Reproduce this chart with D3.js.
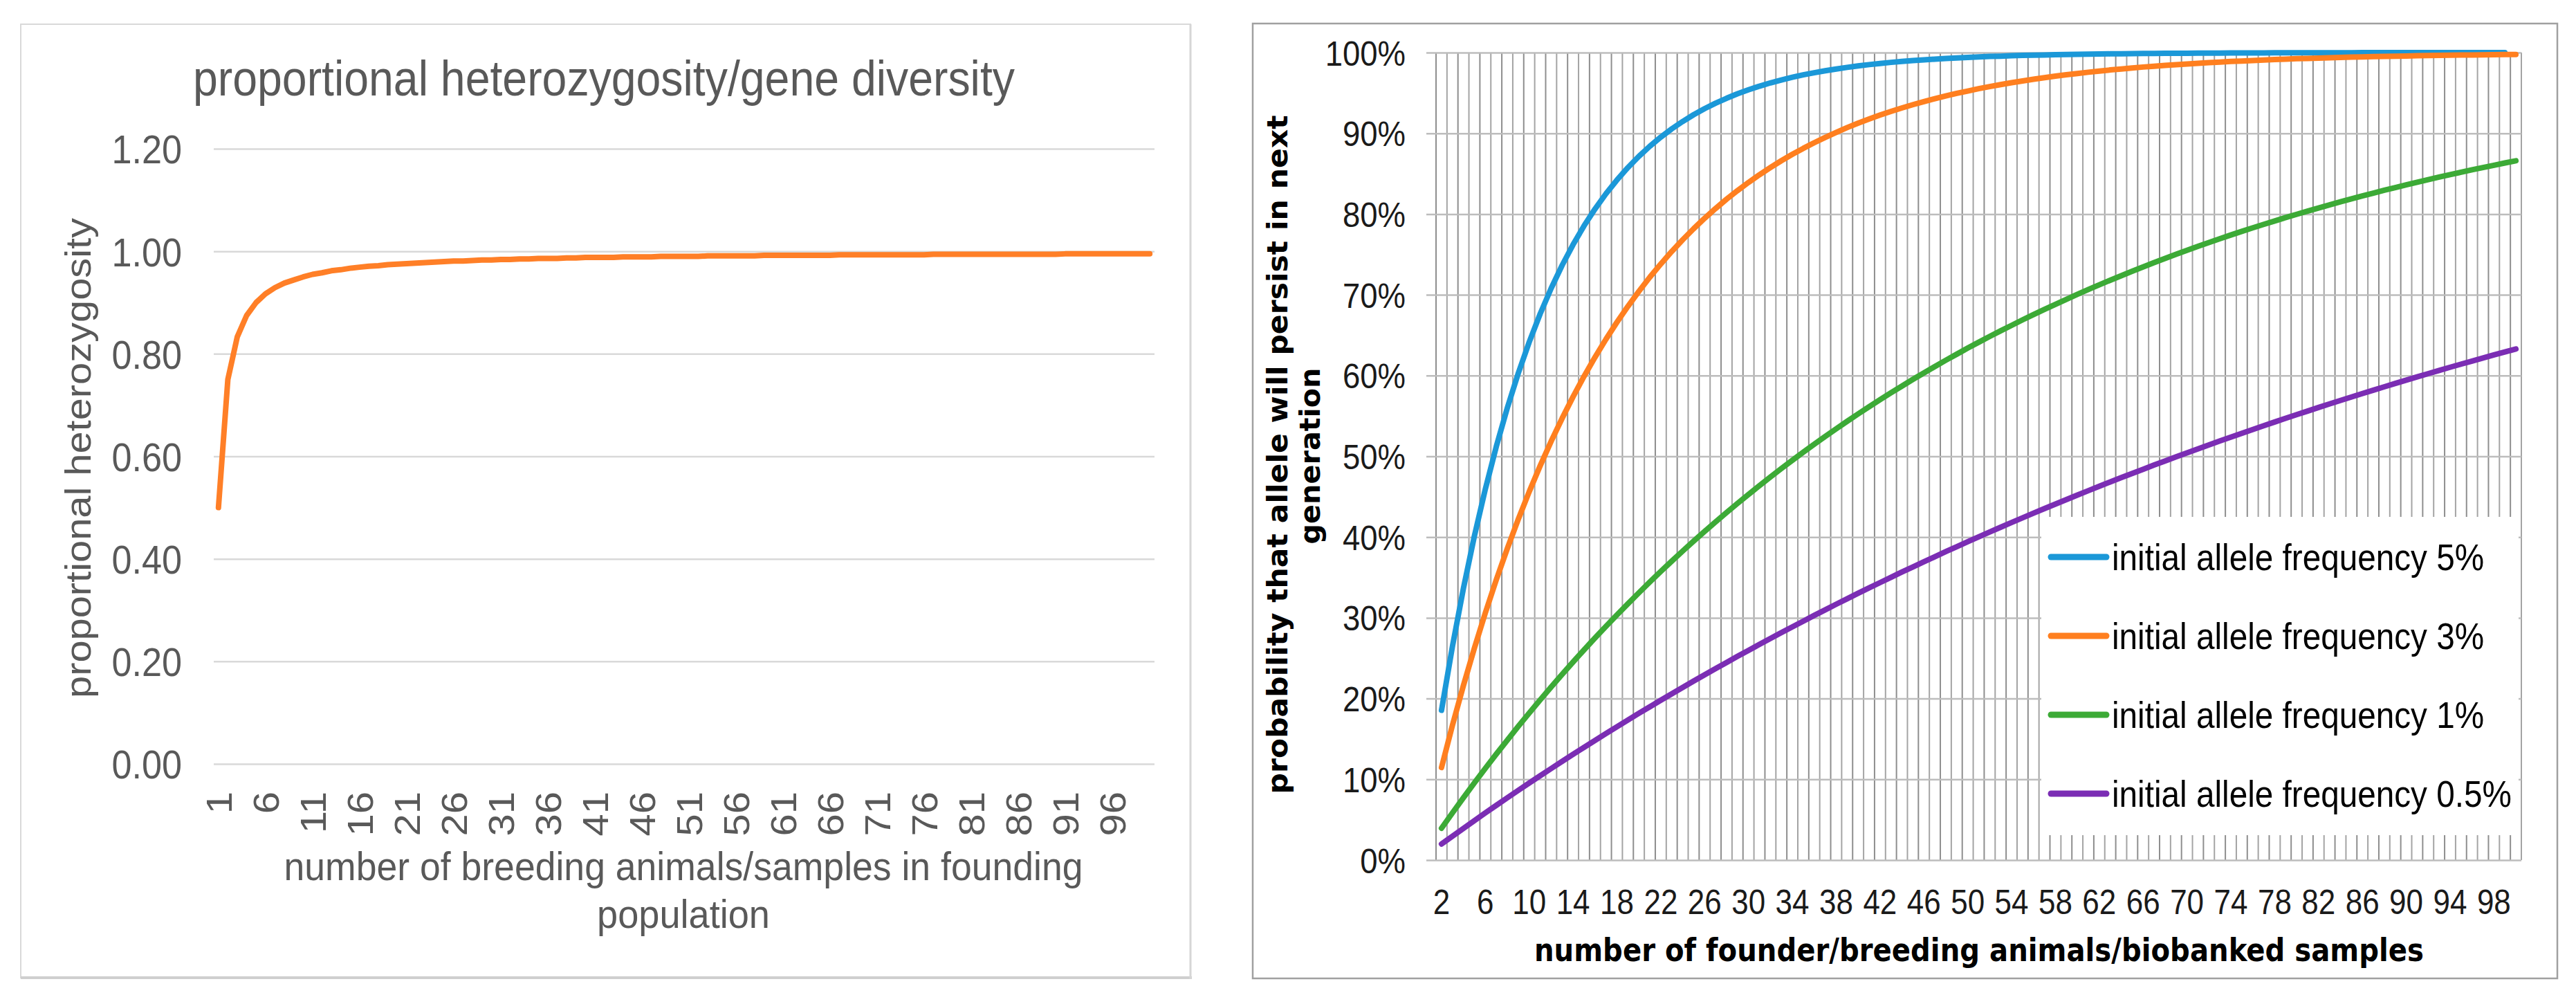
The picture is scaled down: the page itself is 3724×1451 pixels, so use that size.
<!DOCTYPE html>
<html><head><meta charset="utf-8">
<script src="https://cdn.jsdelivr.net/npm/d3@7"></script>
<style>html,body{margin:0;padding:0;background:#fff;} svg{display:block;}</style>
</head><body>
<svg id="chart" width="3724" height="1451"></svg>
<script>
// ---------------- DATA ----------------
// Left chart: proportional heterozygosity vs number of founders (1..100)
const leftCategories = d3.range(1, 101);
const heterozygosity = [
0.500,0.750,0.833,0.875,0.900,0.917,0.929,0.938,0.944,0.950,
0.955,0.958,0.962,0.964,0.967,0.969,0.971,0.972,0.974,0.975,
0.976,0.977,0.978,0.979,0.980,0.981,0.981,0.982,0.983,0.983,
0.984,0.984,0.985,0.985,0.986,0.986,0.986,0.987,0.987,0.988,
0.988,0.988,0.988,0.989,0.989,0.989,0.989,0.990,0.990,0.990,
0.990,0.990,0.991,0.991,0.991,0.991,0.991,0.991,0.992,0.992,
0.992,0.992,0.992,0.992,0.992,0.992,0.993,0.993,0.993,0.993,
0.993,0.993,0.993,0.993,0.993,0.993,0.994,0.994,0.994,0.994,
0.994,0.994,0.994,0.994,0.994,0.994,0.994,0.994,0.994,0.994,
0.995,0.995,0.995,0.995,0.995,0.995,0.995,0.995,0.995,0.995];
const leftYTicks = [0, 0.2, 0.4, 0.6, 0.8, 1.0, 1.2];
const leftXTicks = [1,6,11,16,21,26,31,36,41,46,51,56,61,66,71,76,81,86,91,96];
const leftTitle = "proportional heterozygosity/gene diversity";
const leftYTitle = "proportional heterozygosity";
const leftXTitle = ["number of breeding animals/samples in founding", "population"];

// Right chart: probability (%) that allele persists, founders 2..100
const rightCategories = d3.range(2, 101);
const freq5 = [18.55,26.49,33.66,40.13,45.96,51.23,55.99,60.28,64.15,
67.65,70.80,73.65,76.22,78.54,80.63,82.52,84.22,85.76,87.15,
88.40,89.53,90.55,91.47,92.31,93.06,93.73,94.34,94.90,95.39,
95.84,96.25,96.61,96.94,97.24,97.51,97.75,97.97,98.17,98.35,
98.51,98.65,98.79,98.90,99.01,99.11,99.19,99.27,99.34,99.41,
99.47,99.52,99.56,99.61,99.65,99.68,99.71,99.74,99.76,99.79,
99.81,99.83,99.84,99.86,99.87,99.89,99.90,99.91,99.92,99.92,
99.93,99.94,99.94,99.95,99.95,99.96,99.96,99.97,99.97,99.97,
99.98,99.98,99.98,99.98,99.98,99.99,99.99,99.99,99.99,99.99,
99.99,99.99,99.99,99.99,99.99,99.99,99.99,99.99,100.00];
const freq3 = [11.47,16.70,21.63,26.26,30.62,34.72,38.57,42.20,45.62,
48.83,51.86,54.70,57.38,59.90,62.27,64.50,66.60,68.57,70.43,
72.18,73.82,75.37,76.82,78.19,79.48,80.69,81.84,82.91,83.92,
84.87,85.76,86.61,87.40,88.14,88.84,89.50,90.12,90.71,91.26,
91.77,92.26,92.72,93.15,93.55,93.93,94.29,94.63,94.95,95.24,
95.53,95.79,96.04,96.27,96.49,96.70,96.90,97.08,97.25,97.41,
97.57,97.71,97.85,97.97,98.09,98.21,98.31,98.41,98.51,98.59,
98.68,98.76,98.83,98.90,98.96,99.02,99.08,99.14,99.19,99.24,
99.28,99.32,99.36,99.40,99.44,99.47,99.50,99.53,99.56,99.58,
99.61,99.63,99.65,99.67,99.69,99.71,99.73,99.74,99.76,99.77];
const freq1 = [3.94,5.85,7.73,9.56,11.36,13.13,14.85,16.55,18.21,
19.84,21.43,23.00,24.53,26.03,27.50,28.94,30.36,31.74,33.10,
34.43,35.74,37.02,38.27,39.50,40.70,41.88,43.04,44.17,45.28,
46.37,47.44,48.49,49.51,50.52,51.50,52.47,53.41,54.34,55.25,
56.14,57.01,57.87,58.70,59.53,60.33,61.12,61.90,62.65,63.40,
64.13,64.84,65.54,66.22,66.90,67.56,68.20,68.83,69.45,70.06,
70.66,71.24,71.81,72.37,72.92,73.46,73.99,74.51,75.02,75.51,
76.00,76.48,76.95,77.41,77.86,78.30,78.73,79.15,79.57,79.97,
80.37,80.76,81.14,81.52,81.89,82.25,82.60,82.95,83.29,83.62,
83.95,84.26,84.58,84.88,85.19,85.48,85.77,86.05,86.33,86.60];
const freq05 = [1.99,2.96,3.93,4.89,5.84,6.78,7.71,8.63,9.54,
10.44,11.33,12.22,13.09,13.96,14.82,15.67,16.51,17.34,18.17,
18.98,19.79,20.59,21.38,22.17,22.95,23.71,24.47,25.23,25.97,
26.71,27.44,28.17,28.88,29.59,30.30,30.99,31.68,32.36,33.04,
33.70,34.36,35.02,35.67,36.31,36.94,37.57,38.20,38.81,39.42,
40.03,40.63,41.22,41.80,42.38,42.96,43.53,44.09,44.65,45.20,
45.75,46.29,46.83,47.36,47.88,48.40,48.92,49.42,49.93,50.43,
50.92,51.41,51.90,52.38,52.85,53.32,53.79,54.25,54.71,55.16,
55.60,56.05,56.49,56.92,57.35,57.78,58.20,58.61,59.03,59.43,
59.84,60.24,60.64,61.03,61.42,61.80,62.18,62.56,62.93,63.30];
const seriesNames = ["initial allele frequency 5%", "initial allele frequency 3%",
                     "initial allele frequency 1%", "initial allele frequency 0.5%"];
const seriesValues = [freq5, freq3, freq1, freq05];
const rightYTicks = [0,10,20,30,40,50,60,70,80,90,100];
const rightXTicks = [2,6,10,14,18,22,26,30,34,38,42,46,50,54,58,62,66,70,74,78,82,86,90,94,98];
const rightYTitle = ["probability that allele will persist in next", "generation"];
const rightXTitle = "number of founder/breeding animals/biobanked samples";

// ---------------- STYLE ----------------
const ARIAL = "'Liberation Sans', Arial, Helvetica, sans-serif";
const VERDANA = "'DejaVu Sans', Verdana, sans-serif";
const seriesColors = ["#1B98D8", "#FF7F1F", "#3CAA36", "#7B2DB4"];

const svg = d3.select("#chart");
svg.append("rect").attr("width", 3724).attr("height", 1451).attr("fill", "#fff");

// ================= LEFT CHART =================
const L = svg.append("g");
L.append("rect").attr("x", 30).attr("y", 35).attr("width", 1691).attr("height", 1378)
  .attr("fill", "#fff").attr("stroke", "#d9d9d9").attr("stroke-width", 2);
L.append("line").attr("x1", 30).attr("x2", 1723).attr("y1", 1413).attr("y2", 1413)
  .attr("stroke", "#cfcfcf").attr("stroke-width", 4);
L.append("line").attr("x1", 1721).attr("x2", 1721).attr("y1", 35).attr("y2", 1415)
  .attr("stroke", "#d6d6d6").attr("stroke-width", 3);

const xL = d3.scaleBand().domain(leftCategories).range([309, 1669]);
const yL = d3.scaleLinear().domain([0, 1.2]).range([1104, 215]);

const yAxL = L.append("g").attr("transform", "translate(309,0)")
  .call(d3.axisLeft(yL).tickValues(leftYTicks).tickFormat(d3.format(".2f"))
        .tickSize(-1360).tickPadding(0));
yAxL.select(".domain").remove();
yAxL.attr("font-size", null).attr("font-family", null);
yAxL.selectAll(".tick line").attr("stroke", "#d9d9d9").attr("stroke-width", 2.5);
yAxL.selectAll(".tick text").attr("x", null).attr("dy", "0.36em")
  .attr("transform", "translate(-46,0) scale(0.9,1)")
  .attr("font-size", 58).attr("font-family", ARIAL).attr("fill", "#595959");

const xAxL = L.append("g").attr("transform", "translate(0,1104)")
  .call(d3.axisBottom(xL).tickValues(leftXTicks).tickSize(0));
xAxL.select(".domain").remove();
xAxL.attr("font-size", null).attr("font-family", null);
xAxL.selectAll(".tick text").attr("x", 0).attr("y", 0).attr("dy", "0.36em")
  .attr("text-anchor", "end")
  .attr("transform", "translate(0,40) rotate(-90) scale(1,0.9)")
  .attr("font-size", 58).attr("font-family", ARIAL).attr("fill", "#595959");

const lineL = d3.line()
  .x((d, i) => xL(leftCategories[i]) + xL.bandwidth() / 2)
  .y(d => yL(d));
L.append("path").datum(heterozygosity).attr("d", lineL)
  .attr("fill", "none").attr("stroke", "#FF7F27").attr("stroke-width", 8)
  .attr("stroke-linejoin", "round").attr("stroke-linecap", "round");

L.append("text").attr("x", 873).attr("y", 138).attr("text-anchor", "middle")
  .attr("font-size", 72).attr("font-family", ARIAL).attr("fill", "#595959")
  .attr("textLength", 1188).attr("lengthAdjust", "spacingAndGlyphs").text(leftTitle);
L.append("text").attr("transform", "translate(131,662) rotate(-90) scale(1,0.9)")
  .attr("text-anchor", "middle").attr("font-size", 58).attr("font-family", ARIAL)
  .attr("fill", "#595959").attr("textLength", 694).attr("lengthAdjust", "spacingAndGlyphs")
  .text(leftYTitle);
const xtL = [[1272, 1155], [1341, 250]];
L.selectAll("text.xt").data(leftXTitle).join("text").attr("class", "xt")
  .attr("x", 988).attr("y", (d, i) => xtL[i][0]).attr("text-anchor", "middle")
  .attr("font-size", 58).attr("font-family", ARIAL).attr("fill", "#595959")
  .attr("textLength", (d, i) => xtL[i][1]).attr("lengthAdjust", "spacingAndGlyphs")
  .text(d => d);

// ================= RIGHT CHART =================
const R = svg.append("g");
R.append("rect").attr("x", 1811).attr("y", 34).attr("width", 1886).attr("height", 1380)
  .attr("fill", "#fff").attr("stroke", "#a0a0a0").attr("stroke-width", 2.5);

const xR = d3.scaleBand().domain(rightCategories).range([2076, 3645]);
const yR = d3.scaleLinear().domain([0, 100]).range([1243, 76]);

// vertical gridlines at category boundaries
const bounds = rightCategories.map(d => xR(d)).concat([xR.range()[1]]);
R.append("g").selectAll("line").data(bounds).join("line")
  .attr("x1", d => d).attr("x2", d => d).attr("y1", yR(100)).attr("y2", yR(0))
  .attr("stroke", (d, i) => i % 2 ? "#a4a4a4" : "#8e8e8e").attr("stroke-width", 2);

const yAxR = R.append("g").attr("transform", "translate(2062,0)")
  .call(d3.axisLeft(yR).tickValues(rightYTicks).tickFormat(d => d + "%")
        .tickSize(-(3645 - 2062)).tickPadding(0));
yAxR.select(".domain").remove();
yAxR.attr("font-size", null).attr("font-family", null);
yAxR.selectAll(".tick line").attr("stroke", "#bdbdbd").attr("stroke-width", 2.5);
yAxR.selectAll(".tick text").attr("x", null).attr("dy", "0.36em")
  .attr("transform", "translate(-30,0) scale(0.91,1)")
  .attr("font-size", 50).attr("font-family", ARIAL).attr("fill", "#1a1a1a");

const xAxR = R.append("g").attr("transform", "translate(0,1243)")
  .call(d3.axisBottom(xR).tickValues(rightXTicks).tickSize(0));
xAxR.select(".domain").remove();
xAxR.attr("font-size", null).attr("font-family", null);
xAxR.selectAll(".tick text").attr("y", 0).attr("dy", 0)
  .attr("transform", "translate(0,78) scale(0.88,1)")
  .attr("font-size", 50).attr("font-family", ARIAL).attr("fill", "#1a1a1a");

const lineR = d3.line()
  .x((d, i) => xR(rightCategories[i]) + xR.bandwidth() / 2)
  .y(d => yR(d));
R.append("g").selectAll("path").data(seriesValues).join("path")
  .attr("d", lineR).attr("fill", "none")
  .attr("stroke", (d, i) => seriesColors[i]).attr("stroke-width", 8)
  .attr("stroke-linejoin", "round").attr("stroke-linecap", "round");

// legend
const leg = R.append("g");
leg.append("rect").attr("x", 2951).attr("y", 747).attr("width", 690).attr("height", 460)
  .attr("fill", "#fff");
const legRows = [805, 919, 1033, 1147];
const le = leg.selectAll("g.le").data(seriesNames).join("g").attr("class", "le")
  .attr("transform", (d, i) => `translate(0,${legRows[i]})`);
le.append("line").attr("x1", 2965).attr("x2", 3045).attr("y1", 0).attr("y2", 0)
  .attr("stroke", (d, i) => seriesColors[i]).attr("stroke-width", 9).attr("stroke-linecap", "round");
le.append("text").attr("transform", "translate(3053,0) scale(0.9,1)").attr("dy", "0.36em")
  .attr("font-size", 53).attr("font-family", ARIAL).attr("fill", "#000").text(d => d);

// axis titles
R.append("text").attr("x", 2861).attr("y", 1389).attr("text-anchor", "middle")
  .attr("font-size", 46).attr("font-weight", "bold").attr("font-family", VERDANA)
  .attr("fill", "#000").attr("textLength", 1286).attr("lengthAdjust", "spacingAndGlyphs")
  .text(rightXTitle);
const ytR = [[1861, 657, 981], [1908, 659, 255]];
R.selectAll("text.yt").data(rightYTitle).join("text").attr("class", "yt")
  .attr("transform", (d, i) => `translate(${ytR[i][0]},${ytR[i][1]}) rotate(-90) scale(1,0.92)`)
  .attr("text-anchor", "middle").attr("font-size", 45).attr("font-weight", "bold")
  .attr("font-family", VERDANA).attr("fill", "#000")
  .attr("textLength", (d, i) => ytR[i][2]).attr("lengthAdjust", "spacingAndGlyphs")
  .text(d => d);
</script>
</body></html>
